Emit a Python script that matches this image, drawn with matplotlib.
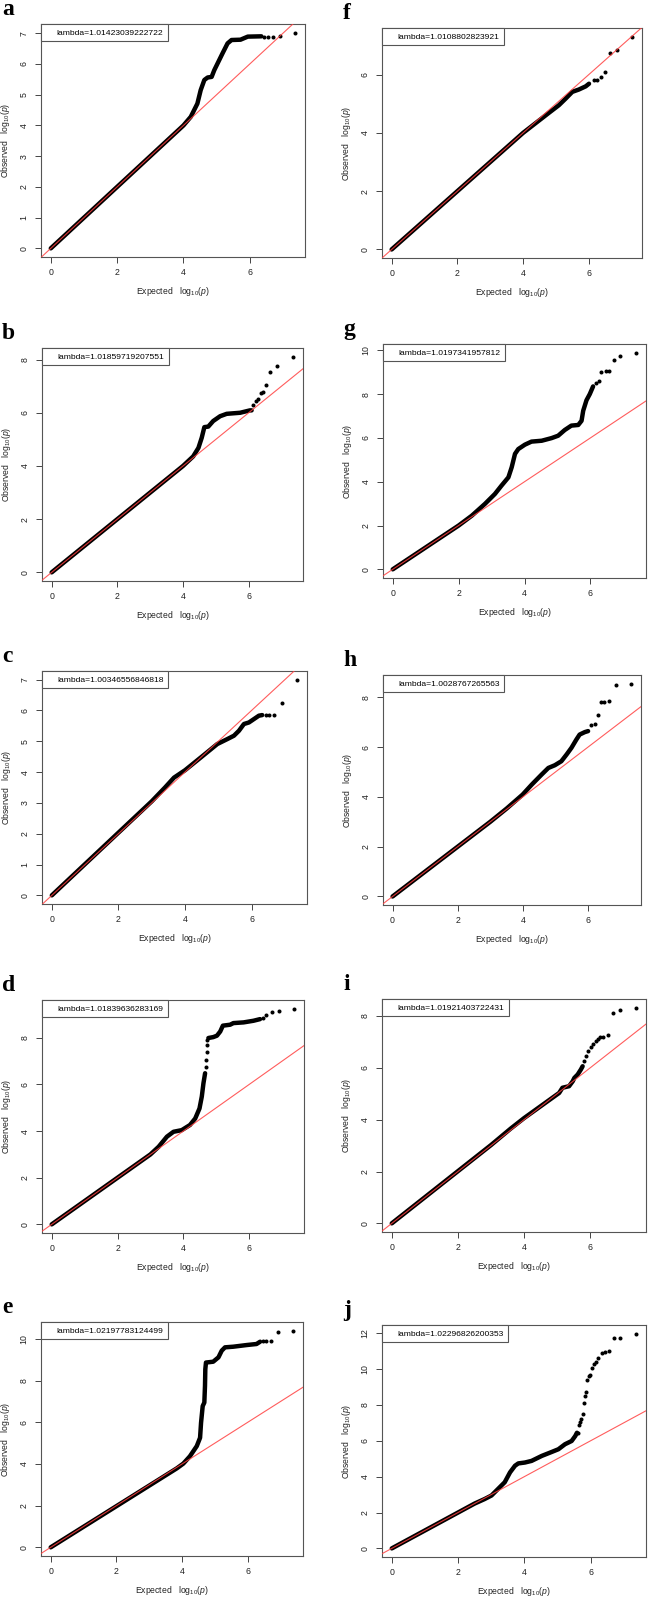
import numpy as np
import matplotlib.pyplot as plt
from matplotlib.ticker import MultipleLocator
from matplotlib.lines import Line2D

plt.rcParams['font.family'] = ['Liberation Sans', 'DejaVu Sans']
plt.rcParams['mathtext.fontset'] = 'custom'
plt.rcParams['mathtext.rm'] = 'Liberation Sans'
plt.rcParams['mathtext.it'] = 'Liberation Sans:italic'

nan = float('nan')

# panel letters and genomic inflation factors
letters = ['a', 'b', 'c', 'd', 'e', 'f', 'g', 'h', 'i', 'j']
lambdas = ['1.01423039222722', '1.01859719207551', '1.00346556846818',
           '1.01839636283169', '1.02197783124499', '1.0108802823921',
           '1.0197341957812', '1.0028767265563', '1.01921403722431',
           '1.02296826200353']
ytick_step = [1, 2, 1, 2, 2, 2, 2, 2, 2, 2]

# dense part of each QQ curve, nan = gap
qq_a_x = [0, 4.0, 4.22, 4.42, 4.52, 4.63, 4.73, 4.85, 4.93, 5.03, 5.18, 5.33, 5.45, 5.72, 5.94, 6.35]
qq_a_y = [0, 4.0, 4.28, 4.71, 5.15, 5.48, 5.56, 5.58, 5.80, 6.02, 6.35, 6.67, 6.78, 6.79, 6.89, 6.90]
tail_a_x = [6.44, 6.55, 6.70, 6.90, 7.37]
tail_a_y = [6.89, 6.89, 6.89, 6.91, 7.02]

qq_b_x = [0, 4.0, 4.31, 4.47, 4.57, 4.65, 4.77, 4.92, 5.13, 5.33, 5.74, 6.04, 6.09]
qq_b_y = [0, 4.0, 4.36, 4.68, 5.06, 5.46, 5.48, 5.69, 5.87, 5.96, 6.00, 6.09, 6.09]
tail_b_x = [6.14, 6.22, 6.29, 6.37, 6.45, 6.52, 6.65, 6.87, 7.36]
tail_b_y = [6.29, 6.44, 6.50, 6.73, 6.78, 7.03, 7.55, 7.74, 8.11]

qq_c_x = [0, 3.0, 3.4, 3.67, 4.0, 4.47, 4.97, 5.27, 5.47, 5.62, 5.77, 5.92, 6.07, 6.22, 6.32]
qq_c_y = [0, 3.05, 3.5, 3.82, 4.06, 4.47, 4.91, 5.07, 5.18, 5.34, 5.56, 5.61, 5.72, 5.83, 5.85]
tail_c_x = [6.42, 6.52, 6.67, 6.90, 7.37]
tail_c_y = [5.85, 5.85, 5.85, 6.24, 7.00]

qq_d_x = [0, 3.0, 3.25, 3.50, 3.70, 3.95, 4.20, 4.36, 4.49, 4.56, 4.61, 4.66, nan,
          4.76, 4.91, 5.02, 5.12, 5.20, 5.42, 5.52, 5.83, 6.13, 6.33]
qq_d_y = [0, 3.0, 3.33, 3.76, 3.97, 4.04, 4.26, 4.54, 4.97, 5.48, 6.05, 6.48, nan,
          7.99, 8.03, 8.09, 8.27, 8.52, 8.56, 8.63, 8.66, 8.73, 8.80]
tail_d_x = [4.69, 4.70, 4.71, 4.72, 4.73, 6.43, 6.50, 6.69, 6.92, 7.37]
tail_d_y = [6.74, 7.05, 7.41, 7.70, 7.91, 8.85, 8.96, 9.09, 9.13, 9.25]

qq_e_x = [0, 3.84, 4.04, 4.24, 4.45, 4.55, 4.58, 4.63, 4.68, 4.70, 4.71, 4.73,
          4.95, 5.11, 5.21, 5.31, 5.56, 5.97, 6.27, 6.38]
qq_e_y = [0, 3.79, 4.02, 4.37, 4.86, 5.26, 5.98, 6.78, 6.95, 7.75, 8.55, 8.87,
          8.91, 9.12, 9.44, 9.60, 9.63, 9.71, 9.76, 9.87]
tail_e_x = [6.48, 6.56, 6.70, 6.93, 7.39]
tail_e_y = [9.89, 9.90, 9.92, 10.32, 10.40]

qq_f_x = [0, 4.0, 4.8, 5.09, 5.30, 5.50, 5.70, 5.91, 6.01]
qq_f_y = [0, 4.0, 4.70, 4.95, 5.18, 5.41, 5.49, 5.60, 5.69]
tail_f_x = [6.16, 6.26, 6.37, 6.49, 6.64, 6.87, 7.33]
tail_f_y = [5.81, 5.81, 5.92, 6.09, 6.74, 6.86, 7.31]

qq_g_x = [0, 2.0, 2.4, 2.8, 3.10, 3.30, 3.51, 3.61, 3.71, 3.81, 4.01, 4.21, 4.52, 4.82,
          5.02, 5.22, 5.42, 5.63, 5.73, 5.78, 5.88, 5.98, 6.08]
qq_g_y = [0, 2.0, 2.45, 2.99, 3.44, 3.82, 4.20, 4.66, 5.27, 5.49, 5.69, 5.83, 5.87, 5.99,
          6.10, 6.36, 6.56, 6.59, 6.78, 7.24, 7.72, 8.00, 8.35]
tail_g_x = [6.18, 6.25, 6.33, 6.46, 6.57, 6.71, 6.91, 7.39]
tail_g_y = [8.52, 8.60, 9.03, 9.07, 9.07, 9.56, 9.76, 9.89]

qq_h_x = [0, 3.0, 3.5, 3.99, 4.27, 4.57, 4.78, 4.98, 5.18, 5.34, 5.49, 5.64, 5.74, 5.90, 6.00]
qq_h_y = [0, 3.0, 3.53, 4.09, 4.49, 4.89, 5.16, 5.27, 5.43, 5.70, 5.97, 6.30, 6.50, 6.60, 6.64]
tail_h_x = [6.10, 6.20, 6.29, 6.39, 6.49, 6.63, 6.87, 7.33]
tail_h_y = [6.90, 6.93, 7.27, 7.80, 7.80, 7.84, 8.49, 8.55]

qq_i_x = [0, 3.0, 3.6, 4.0, 5.06, 5.16, 5.36, 5.47, 5.52, 5.62, 5.72, 5.77]
qq_i_y = [0, 3.02, 3.66, 4.06, 5.03, 5.23, 5.29, 5.48, 5.61, 5.74, 5.94, 6.06]
tail_i_x = [5.82, 5.87, 5.94, 6.02, 6.09, 6.17, 6.22, 6.30, 6.38, 6.55, 6.68, 6.90, 7.39]
tail_i_y = [6.26, 6.45, 6.65, 6.80, 6.90, 7.03, 7.12, 7.17, 7.19, 7.28, 8.13, 8.22, 8.32]

qq_j_x = [0, 2.5, 2.8, 3.01, 3.21, 3.41, 3.57, 3.72, 3.82, 4.02, 4.22, 4.53, 4.83, 5.03,
          5.23, 5.43, 5.54, 5.59]
qq_j_y = [0, 2.5, 2.75, 2.95, 3.32, 3.69, 4.24, 4.61, 4.74, 4.79, 4.88, 5.16, 5.38, 5.53,
          5.81, 5.99, 6.27, 6.45]
tail_j_x = [5.61, 5.64, 5.69, 5.72, 5.76, 5.79, 5.84, 5.87, 5.89, 5.94, 5.99, 6.04,
            6.11, 6.17, 6.24, 6.34, 6.44, 6.55, 6.70, 6.90, 7.38]
tail_j_y = [6.45, 6.91, 7.06, 7.19, 7.47, 8.11, 8.48, 8.72, 9.40, 9.59, 9.68, 10.05,
            10.27, 10.38, 10.60, 10.88, 10.93, 11.02, 11.71, 11.71, 11.98]

dense_x = [qq_a_x, qq_b_x, qq_c_x, qq_d_x, qq_e_x, qq_f_x, qq_g_x, qq_h_x, qq_i_x, qq_j_x]
dense_y = [qq_a_y, qq_b_y, qq_c_y, qq_d_y, qq_e_y, qq_f_y, qq_g_y, qq_h_y, qq_i_y, qq_j_y]
tail_x = [tail_a_x, tail_b_x, tail_c_x, tail_d_x, tail_e_x, tail_f_x, tail_g_x, tail_h_x, tail_i_x, tail_j_x]
tail_y = [tail_a_y, tail_b_y, tail_c_y, tail_d_y, tail_e_y, tail_f_y, tail_g_y, tail_h_y, tail_i_y, tail_j_y]

# axes boxes in pixels: left, top, right, bottom
boxes = [(41, 24, 305, 257), (42, 348, 303, 581), (42, 671, 307, 904),
         (42, 1000, 304, 1233), (41, 1322, 303, 1556),
         (382, 28, 642, 258), (383, 344, 646, 578), (383, 675, 641, 905),
         (382, 999, 646, 1232), (382, 1325, 646, 1557)]

W, H = 649, 1597
fig = plt.figure(figsize=(W / 100, H / 100), dpi=100)

for k in range(10):
    l, t, r, b = boxes[k]
    ax = fig.add_axes([l / W, 1 - b / H, (r - l) / W, (b - t) / H])

    ax.plot(dense_x[k], dense_y[k], color='black', lw=3.2,
            solid_capstyle='round', solid_joinstyle='round', zorder=2)
    ax.plot(tail_x[k], tail_y[k], 'o', color='black', ms=2.9, mew=0, zorder=2)
    ax.axline((0, 0), slope=1, color='#ff4040', lw=0.8, alpha=0.85, zorder=3)

    # R style limits: data range + 4%
    xmax = max(np.nanmax(dense_x[k]), max(tail_x[k]))
    ymax = max(np.nanmax(dense_y[k]), max(tail_y[k]))
    ax.set_xlim(-0.04 * xmax, 1.04 * xmax)
    ax.set_ylim(-0.04 * ymax, 1.04 * ymax)

    ax.xaxis.set_major_locator(MultipleLocator(2))
    ax.yaxis.set_major_locator(MultipleLocator(ytick_step[k]))
    ax.tick_params(length=4, width=0.7, color='#444444', labelsize=6.3,
                   labelcolor='#222222', pad=4)
    ax.tick_params(axis='y', labelrotation=90, pad=5)
    for lab in ax.get_yticklabels():
        lab.set_va('center')
    for s in ax.spines.values():
        s.set_color('#555555')
        s.set_linewidth(0.8)

    ax.set_xlabel('Expected   log$_{10}$($\\mathit{p}$)', fontsize=6.2,
                  color='#222222', labelpad=6)
    ax.set_ylabel('Observed   log$_{10}$($\\mathit{p}$)', fontsize=6.2,
                  color='#222222', labelpad=5.5)

    h = Line2D([], [], linestyle='none')
    leg = ax.legend([h], ['lambda=' + lambdas[k]], loc='upper left',
                    borderaxespad=0, fancybox=False, fontsize=6.1,
                    handlelength=0.85, handletextpad=0.4, borderpad=0.55,
                    framealpha=1)
    leg.get_frame().set_edgecolor('#555555')
    leg.get_frame().set_linewidth(0.8)

    x0 = 2 if k < 5 else 343
    fig.text(x0 / W, 1 - (t - 9) / H, letters[k], fontsize=17,
             fontweight='bold', family=['Liberation Serif', 'DejaVu Serif'],
             va='baseline', ha='left')

fig.savefig('out.png', dpi=100)
